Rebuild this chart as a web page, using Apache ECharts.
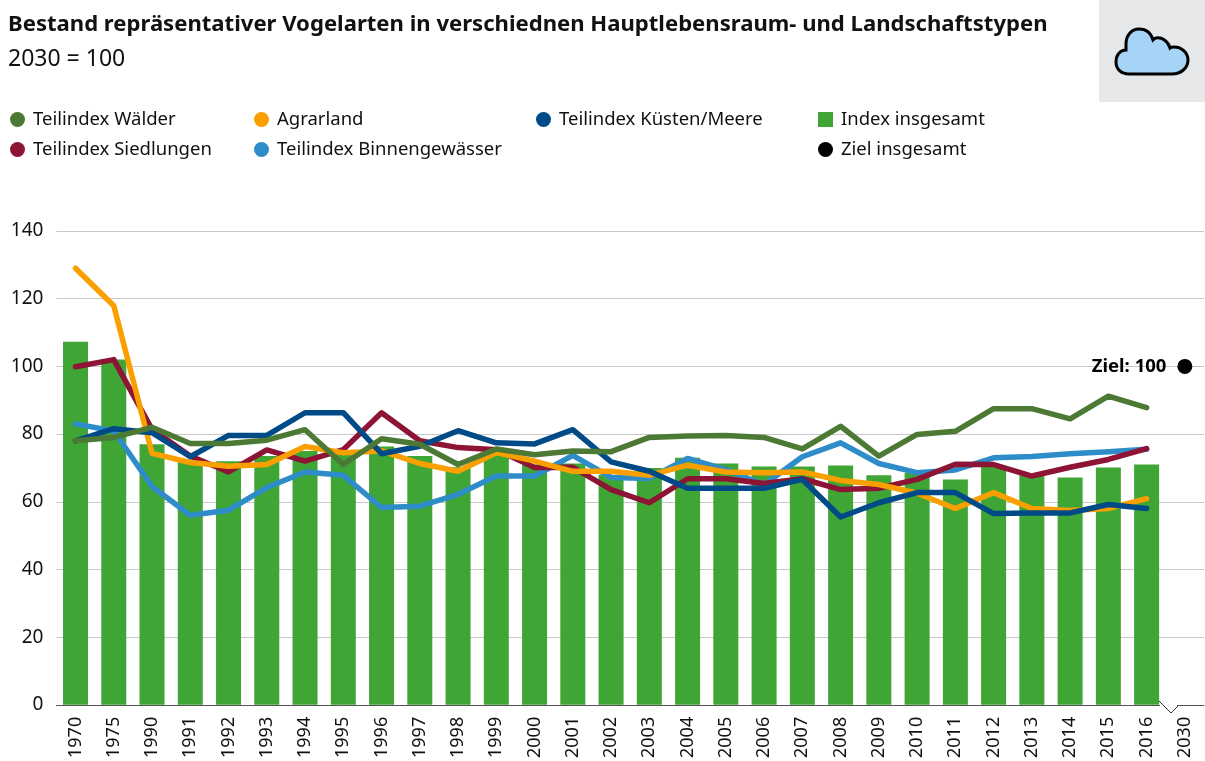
<!DOCTYPE html>
<html>
<head>
<meta charset="utf-8">
<title>Vogelarten</title>
<script src="https://cdn.jsdelivr.net/npm/echarts@6/dist/echarts.min.js"></script>
<style>
  html, body { margin: 0; padding: 0; background: #fff; }
  #chart { width: 1205px; height: 761px; }
</style>
</head>
<body>
<div id="chart"></div>
<script>
const years = ['1970', '1975', '1990', '1991', '1992', '1993', '1994', '1995', '1996', '1997', '1998', '1999', '2000', '2001', '2002', '2003', '2004', '2005', '2006', '2007', '2008', '2009', '2010', '2011', '2012', '2013', '2014', '2015', '2016', '2030'];

const indexTotal = [107.3, 102, 77, 72, 72, 73.5, 75, 74, 76.3, 73.5, 70.2, 74.5, 71, 71.3, 68, 70, 73, 71.3, 70.4, 70.4, 70.7, 67.8, 68.5, 66.6, 70.5, 68, 67.2, 70.1, 71, null];
const forests = [78, 79, 82, 77.2, 77.2, 78.2, 81.3, 71, 78.6, 77, 71, 75.6, 73.9, 75, 74.8, 79, 79.4, 79.6, 79, 75.6, 82.3, 73.5, 79.9, 80.8, 87.5, 87.5, 84.5, 91.2, 87.8, null];
const farmland = [129, 117.9, 74.3, 71.6, 70.5, 71, 76.3, 74.5, 75, 71.3, 69, 74.5, 72, 69, 69, 67.8, 70.8, 68.8, 68.6, 68.8, 66.3, 65.1, 62.5, 58, 62.7, 58, 57.4, 58, 60.9, null];
const coasts = [78, 81.6, 80.4, 73.3, 79.6, 79.6, 86.3, 86.3, 74.2, 76.4, 81, 77.4, 77.1, 81.3, 71.8, 69, 64, 64, 64, 66.6, 55.5, 59.7, 62.7, 62.7, 56.5, 56.7, 56.7, 59.2, 58, null];
const settlements = [99.9, 102, 81.4, 73.5, 68.8, 75.3, 72, 75.4, 86.3, 78, 76, 75.4, 70.1, 70.2, 63.6, 59.7, 66.8, 66.8, 65.4, 66.8, 63.6, 64, 66.6, 71.1, 71, 67.6, 70.2, 72.5, 75.7, null];
const inland = [83, 80.9, 64.5, 56, 57.5, 64.2, 68.8, 67.8, 58.3, 58.7, 62.2, 67.6, 67.6, 73.7, 67.2, 66.9, 72.8, 69.5, 65, 73.3, 77.4, 71.3, 68.6, 69.4, 73, 73.4, 74.2, 74.8, 75.5, null];
const target = [null, null, null, null, null, null, null, null, null, null, null, null, null, null, null, null, null, null, null, null, null, null, null, null, null, null, null, null, null, 100];

const fontFamily = '"Noto Sans", sans-serif';
const textColor = '#111';

// the graphic component has no plain path type, so the cloud goes in as a custom shape
echarts.graphic.registerShape('cloud', echarts.graphic.extendPath(
  'M1129 74 H1172 C1181 74 1188 68 1188 60 C1188 53 1182 47 1174 47 C1172 47 1171 47 1170 48 C1168 41 1162 37 1156 38 C1155 38 1154 39 1153 40 C1151 33 1146 29 1139 29 C1131 29 1126 36 1126 44 L1126 50 C1120 50 1116 55 1116 62 C1116 69 1121 74 1129 74 Z',
  {}
));

function lineSeries(name, values, color) {
  return {
    name: name,
    type: 'line',
    data: values,
    showSymbol: false,
    symbol: 'circle',
    lineStyle: { color: color, width: 5.5, cap: 'round', join: 'round' },
    itemStyle: { color: color },
    emphasis: { disabled: true }
  };
}

function legendColumn(left, names) {
  return {
    left: left,
    top: 110,
    padding: 0,
    orient: 'vertical',
    itemGap: 11,
    itemWidth: 15,
    itemHeight: 15,
    data: names.map((name) => ({ name: name, icon: name === 'Index insgesamt' ? 'rect' : 'circle' })),
    selectedMode: false,
    textStyle: { fontFamily: fontFamily, fontSize: 18.5, color: textColor, padding: [0, 0, 0, 3] }
  };
}

const chart = echarts.init(document.getElementById('chart'), null, { renderer: 'canvas' });

chart.setOption({
  animation: false,
  backgroundColor: '#fff',
  title: {
    text: 'Bestand repräsentativer Vogelarten in verschiednen Hauptlebensraum- und Landschaftstypen',
    subtext: '2030 = 100',
    left: 8,
    top: 14,
    padding: 0,
    itemGap: 12,
    textStyle: { fontFamily: fontFamily, fontSize: 22.1, fontWeight: 'bold', color: textColor },
    subtextStyle: { fontFamily: fontFamily, fontSize: 23, color: textColor }
  },
  legend: [
    legendColumn(10, ['Teilindex Wälder', 'Teilindex Siedlungen']),
    legendColumn(254, ['Agrarland', 'Teilindex Binnengewässer']),
    legendColumn(536, ['Teilindex Küsten/Meere']),
    legendColumn(818, ['Index insgesamt', 'Ziel insgesamt'])
  ],
  grid: { left: 56.4, right: 1, top: 231, bottom: 55 },
  xAxis: {
    type: 'category',
    data: years,
    axisLine: { lineStyle: { color: '#555', width: 1 } },
    axisTick: { length: 7, lineStyle: { color: '#555' } },
    axisLabel: { rotate: 90, interval: 0, fontFamily: fontFamily, fontSize: 18, color: textColor, margin: 12 }
  },
  yAxis: {
    type: 'value',
    min: 0,
    max: 140,
    interval: 20,
    axisLine: { show: false },
    axisTick: { show: false },
    axisLabel: { fontFamily: fontFamily, fontSize: 19, color: textColor, margin: 13, padding: [4, 0, 0, 0] },
    splitLine: { lineStyle: { color: '#c8c8c8', width: 1 } }
  },
  series: [
    { name: 'Index insgesamt', type: 'bar', data: indexTotal, barWidth: 25, itemStyle: { color: '#3fa535' }, emphasis: { disabled: true } },
    lineSeries('Teilindex Binnengewässer', inland, '#2e8cc8'),
    lineSeries('Teilindex Siedlungen', settlements, '#8e1435'),
    lineSeries('Agrarland', farmland, '#f9a000'),
    lineSeries('Teilindex Küsten/Meere', coasts, '#004b87'),
    lineSeries('Teilindex Wälder', forests, '#4c7a35'),
    {
      name: 'Ziel insgesamt',
      type: 'scatter',
      data: target,
      symbol: 'circle',
      symbolSize: 15,
      itemStyle: { color: '#000', opacity: 1 },
      label: {
        show: true,
        position: 'left',
        distance: 11,
        formatter: 'Ziel: {c}',
        fontFamily: fontFamily,
        fontSize: 18.5,
        fontWeight: 'bold',
        color: '#000'
      },
      emphasis: { disabled: true }
    }
  ],
  graphic: [
    // icon box
    { type: 'rect', x: 1099, y: 0, z: 1, shape: { width: 106, height: 102 }, style: { fill: '#e6e7e8' } },
    { type: 'cloud', z: 2, style: { fill: '#a5d4f7', stroke: '#000', lineWidth: 3 } },
    // axis break between 2016 and 2030
    { type: 'rect', x: 1160, y: 704, z: 10, shape: { width: 17, height: 10 }, style: { fill: '#fff' } },
    {
      type: 'polyline',
      z: 11,
      shape: { points: [[1159, 701], [1171, 713], [1178, 706]] },
      style: { stroke: '#333', lineWidth: 1, fill: null }
    }
  ]
});

window.addEventListener('resize', () => chart.resize());
</script>
</body>
</html>
